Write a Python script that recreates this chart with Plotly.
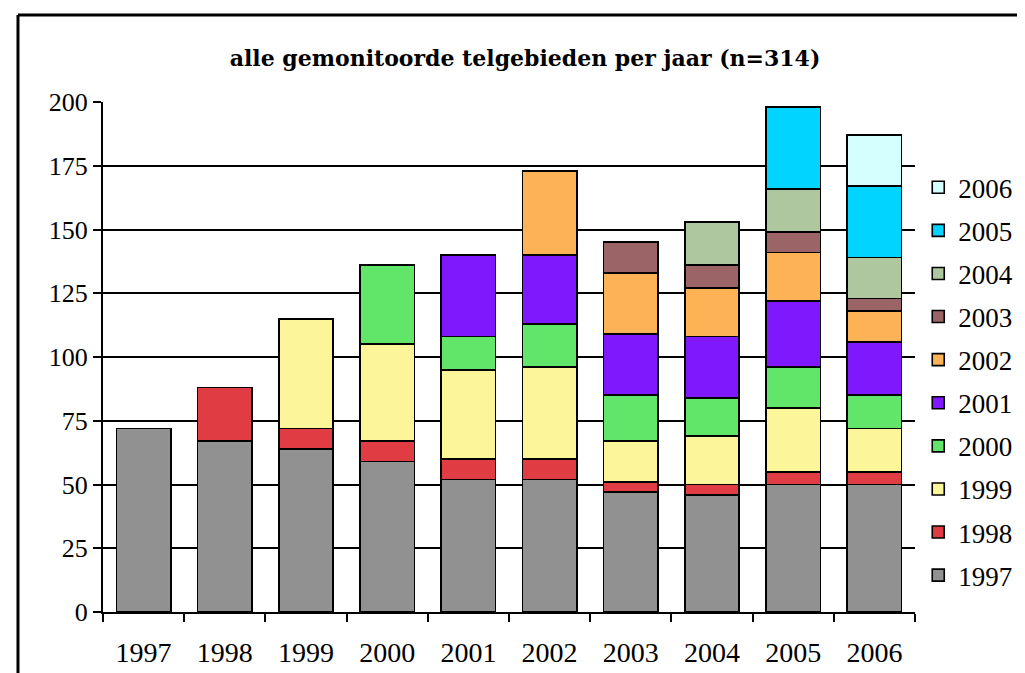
import plotly.graph_objects as go

jaren = ["1997", "1998", "1999", "2000", "2001", "2002", "2003", "2004", "2005", "2006"]

# aantal telgebieden per startjaar (cohort) per jaar
c1997 = [72, 67, 64, 59, 52, 52, 47, 46, 50, 50]
c1998 = [None, 21, 8, 8, 8, 8, 4, 4, 5, 5]
c1999 = [None, None, 43, 38, 35, 36, 16, 19, 25, 17]
c2000 = [None, None, None, 31, 13, 17, 18, 15, 16, 13]
c2001 = [None, None, None, None, 32, 27, 24, 24, 26, 21]
c2002 = [None, None, None, None, None, 33, 24, 19, 19, 12]
c2003 = [None, None, None, None, None, None, 12, 9, 8, 5]
c2004 = [None, None, None, None, None, None, None, 17, 17, 16]
c2005 = [None, None, None, None, None, None, None, None, 32, 28]
c2006 = [None, None, None, None, None, None, None, None, None, 20]

reeksen = [c1997, c1998, c1999, c2000, c2001, c2002, c2003, c2004, c2005, c2006]
kleuren = ["#919191", "#E03C44", "#FDF59A", "#62E66A", "#7F18FC",
           "#FDB256", "#9B6568", "#AFC79F", "#00D4FF", "#D5FFFF"]

serif = "Liberation Serif"

fig = go.Figure()
for i, (naam, waarden, kleur) in enumerate(zip(jaren, reeksen, kleuren)):
    fig.add_trace(go.Bar(
        x=jaren, y=waarden, name=naam, legendgroup=naam,
        legendrank=100 - i,
        marker=dict(color=kleur, line=dict(color="black", width=1.6)),
    ))

# de pagina heeft 8px marge rond de figuur
fig.update_layout(
    barmode="stack",
    bargap=0.33,
    width=1017, height=665,
    margin=dict(l=95, r=110, t=94, b=61, autoexpand=False),
    paper_bgcolor="white", plot_bgcolor="white",
    title=dict(text="<b>alle gemonitoorde telgebieden per jaar (n=314)</b>",
               x=517 / 1017, xref="container", xanchor="center",
               y=1 - 50 / 665, yref="container", yanchor="middle",
               font=dict(family="DejaVu Serif", size=22, color="black")),
    font=dict(family=serif, size=26, color="black"),
    legend=dict(traceorder="grouped", tracegroupgap=5,
                x=1.004, xanchor="left", y=0.88, yanchor="top",
                font=dict(family=serif, size=27, color="black"),
                itemwidth=30),
    showlegend=True,
)

fig.update_xaxes(
    type="category", tickson="boundaries", ticks="outside", ticklen=8,
    tickwidth=2, tickcolor="black", showline=True, linecolor="black",
    linewidth=2, showgrid=False, tickfont=dict(family=serif, size=28),
    ticklabelstandoff=14,
)
fig.update_yaxes(
    range=[0, 200], tickvals=[0, 25, 50, 75, 100, 125, 150, 175, 200],
    ticks="outside", ticklen=8, tickwidth=2, tickcolor="black",
    showline=True, linecolor="black", linewidth=2,
    showgrid=True, gridcolor="black", gridwidth=2, zeroline=False,
    tickfont=dict(family=serif, size=26),
)

# kader rond de grafiek
fig.add_shape(type="line", xref="paper", yref="paper",
              x0=-0.1047, x1=1.15, y0=1.1706, y1=1.1706,
              line=dict(color="black", width=3))
fig.add_shape(type="line", xref="paper", yref="paper",
              x0=-0.1047, x1=-0.1047, y0=1.1706, y1=-0.15,
              line=dict(color="black", width=3))

fig.write_html("out.html")
